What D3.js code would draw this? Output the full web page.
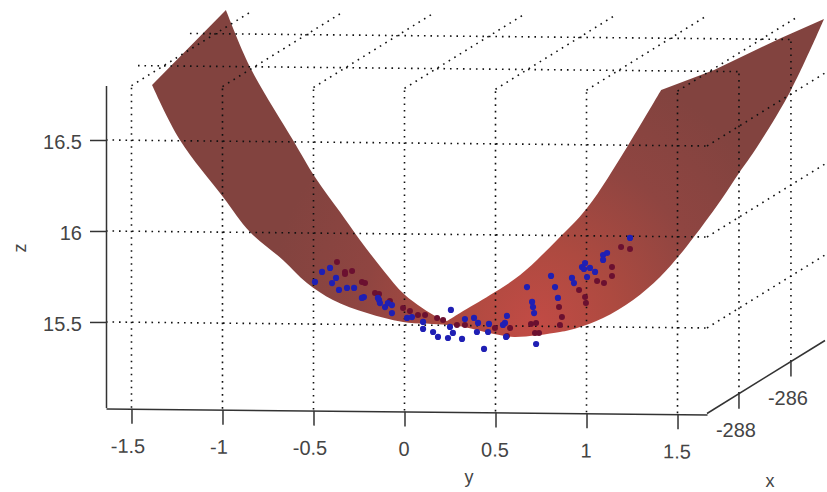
<!DOCTYPE html>
<html>
<head>
<meta charset="utf-8">
<script src="https://cdn.jsdelivr.net/npm/d3@7"></script>
<style>
  html, body { margin: 0; padding: 0; background: #fff; }
  svg { display: block; }
  text { font-family: "Liberation Sans", Arial, sans-serif; fill: #444; }
  .tick text { font-size: 20px; }
</style>
</head>
<body>
<div id="chart"></div>
<script>
const yTicks = [-1.5, -1, -0.5, 0, 0.5, 1, 1.5];
const zTicks = [15.5, 16, 16.5];
const xTicks = [-288, -286];

const yLimits = [-1.64, 1.662];
const zLimits = [15.03, 16.8];
const xLimits = [-289.23, -284.69];

// surface outline
const surfaceY = [-1.387, -0.981, -0.849, -0.613, -0.492, -0.354, -0.245, -0.118, 0.003, 0.179, 0.234, 0.305, 0.47, 0.635, 0.838, 1.003, 1.223, 1.41, 1.701, 2.069, 2.305, 2.124, 1.937, 1.838, 1.739, 1.552, 1.404, 1.256, 1.091, 0.948, 0.854, 0.602, 0.492, 0.327, 0.234, -0.008, -0.206, -0.393, -0.536, -0.668, -0.849, -0.997, -1.234];
const surfaceZ = [16.802, 17.214, 16.901, 16.5, 16.297, 16.104, 15.951, 15.786, 15.648, 15.527, 15.505, 15.549, 15.648, 15.758, 15.951, 16.126, 16.462, 16.775, 16.885, 17.061, 17.165, 16.775, 16.462, 16.319, 16.17, 15.918, 15.747, 15.621, 15.522, 15.467, 15.445, 15.418, 15.434, 15.473, 15.484, 15.5, 15.549, 15.621, 15.714, 15.841, 15.995, 16.187, 16.5];

// measured points
const blueY = [-0.453, -0.409, -0.492, -0.376, -0.398, -0.36, -0.316, -0.277, -0.223, -0.234, -0.14, -0.135, -0.146, -0.107, -0.091, -0.069, -0.069, 0.014, 0.041, 0.102, 0.102, 0.157, 0.184, 0.266, 0.239, 0.316, 0.255, 0.332, 0.25, 0.382, 0.404, 0.398, 0.464, 0.459, 0.563, 0.552, 0.541, 0.437, 0.558, 0.723, 0.673, 0.701, 0.706, 0.712, 0.805, 0.827, 0.843, 0.92, 0.931, 0.975, 0.992, 0.986, 1.019, 1.003, 1.047, 1.091, 1.113, 1.091, 1.239];
const blueZ = [15.775, 15.797, 15.72, 15.742, 15.714, 15.676, 15.687, 15.687, 15.637, 15.632, 15.621, 15.604, 15.632, 15.582, 15.604, 15.593, 15.549, 15.522, 15.527, 15.5, 15.462, 15.445, 15.418, 15.44, 15.412, 15.407, 15.566, 15.516, 15.473, 15.522, 15.495, 15.445, 15.489, 15.445, 15.533, 15.495, 15.484, 15.352, 15.418, 15.379, 15.692, 15.61, 15.582, 15.549, 15.753, 15.692, 15.632, 15.742, 15.714, 15.802, 15.824, 15.791, 15.797, 15.747, 15.775, 15.868, 15.879, 15.841, 15.962];
const redY = [-0.371, -0.327, -0.327, -0.288, -0.234, -0.217, -0.162, -0.14, -0.08, -0.008, 0.03, 0.074, 0.113, 0.179, 0.212, 0.288, 0.332, 0.497, 0.58, 0.563, 0.695, 0.723, 0.717, 0.739, 0.849, 0.865, 0.854, 0.959, 0.992, 0.997, 1.058, 1.096, 1.14, 1.14, 1.19, 1.239];
const redZ = [15.83, 15.775, 15.764, 15.78, 15.72, 15.714, 15.659, 15.654, 15.615, 15.577, 15.56, 15.538, 15.538, 15.522, 15.511, 15.484, 15.484, 15.467, 15.467, 15.423, 15.489, 15.495, 15.44, 15.44, 15.582, 15.527, 15.484, 15.676, 15.637, 15.604, 15.725, 15.714, 15.802, 15.753, 15.912, 15.901];

const width = 827;
const height = 492;

const svg = d3.select('#chart').append('svg')
  .attr('width', width)
  .attr('height', height);

const yScale = d3.scaleLinear().domain(yLimits).range([106, 707]);
const zScale = d3.scaleLinear().domain(zLimits).range([407.5, 85.4]);
// the view is oblique: x runs up and to the right, y drifts down a little
const xRun = d3.scaleLinear().domain(xLimits).range([0, 118]);
const xRise = d3.scaleLinear().domain(xLimits).range([0, 73]);
const yDrift = d3.scaleLinear().domain(yLimits).range([0, 6]);

const project = (x, y, z) => [
  yScale(y) + xRun(x),
  zScale(z) + yDrift(y) - xRise(x)
];

// surface
const defs = svg.append('defs');
const grad = defs.append('radialGradient')
  .attr('id', 'surfaceFill')
  .attr('gradientUnits', 'userSpaceOnUse')
  .attr('cx', yScale(0.72)).attr('cy', zScale(15.48)).attr('r', 270);
grad.append('stop').attr('offset', '0%').attr('stop-color', '#c24b45');
grad.append('stop').attr('offset', '30%').attr('stop-color', '#ad4a40');
grad.append('stop').attr('offset', '65%').attr('stop-color', '#8f4541');
grad.append('stop').attr('offset', '100%').attr('stop-color', '#82433f');

const n = surfaceY.length;
const edgeLine = curve => d3.line()
  .x(i => yScale(surfaceY[i % n]))
  .y(i => zScale(surfaceZ[i % n]))
  .curve(curve);

// smooth arcs with straight runs at the two far ends
const outlinePath = [
  edgeLine(d3.curveLinear)([0, 1]),
  edgeLine(d3.curveCatmullRom)(d3.range(1, 11)),
  edgeLine(d3.curveCatmullRom)(d3.range(10, 18)),
  edgeLine(d3.curveLinear)(d3.range(17, 21)),
  edgeLine(d3.curveCatmullRom)(d3.range(20, n + 1))
].map((s, i) => i ? s.replace('M', 'L') : s).join('') + 'Z';

svg.append('path')
  .attr('d', outlinePath)
  .attr('fill', 'url(#surfaceFill)');

// dotted grid, drawn over the surface
const xMin = xLimits[0], xMax = xLimits[1];
const yMin = yLimits[0], yMax = yLimits[1];
const zMin = zLimits[0], zMax = zLimits[1];

const gridSegments = [];
yTicks.forEach(y => {
  gridSegments.push([project(xMin, y, zMin), project(xMin, y, zMax)]);
  gridSegments.push([project(xMin, y, zMax), project(xMax, y, zMax)]);
});
zTicks.forEach(z => {
  gridSegments.push([project(xMin, yMin, z), project(xMin, yMax, z)]);
  gridSegments.push([project(xMin, yMax, z), project(xMax, yMax, z)]);
});
xTicks.forEach(x => {
  gridSegments.push([project(x, yMax, zMin), project(x, yMax, zMax)]);
  gridSegments.push([project(x, yMin, zMax), project(x, yMax, zMax)]);
});

svg.append('g').selectAll('line').data(gridSegments).enter().append('line')
  .attr('x1', d => d[0][0])
  .attr('y1', d => d[0][1])
  .attr('x2', d => d[1][0])
  .attr('y2', d => d[1][1])
  .attr('stroke', '#111')
  .attr('stroke-width', 1.6)
  .attr('stroke-dasharray', '1.6 4.9');

// points
svg.append('g').selectAll('circle').data(d3.range(redY.length)).enter().append('circle')
  .attr('cx', i => yScale(redY[i]))
  .attr('cy', i => zScale(redZ[i]))
  .attr('r', 3)
  .attr('fill', '#6b1030');

svg.append('g').selectAll('circle').data(d3.range(blueY.length)).enter().append('circle')
  .attr('cx', i => yScale(blueY[i]))
  .attr('cy', i => zScale(blueZ[i]))
  .attr('r', 3.1)
  .attr('fill', '#1f1fb4');

// axes
const styleAxis = g => {
  g.selectAll('path, line').attr('stroke', '#333').attr('stroke-width', 1.5);
  g.selectAll('text').attr('fill', '#444');
};

svg.append('g')
  .attr('transform', 'translate(106,0)')
  .call(d3.axisLeft(zScale).tickValues(zTicks).tickFormat(d => String(d)).tickSize(16).tickSizeOuter(0).tickPadding(8))
  .call(styleAxis)
  .selectAll('text').attr('dy', '0.42em');

svg.append('g')
  .attr('transform', `translate(0,${zScale(zMin)}) skewY(0.57)`)
  .call(d3.axisBottom(yScale).tickValues(yTicks).tickFormat(d => String(d)).tickSize(15).tickSizeOuter(0).tickPadding(15))
  .call(styleAxis)
  .selectAll('text').attr('dx', d => d < 0 ? -4 : -1);

// x axis runs along the right floor edge, no d3.axis for a slanted line
const xAxis = svg.append('g');
const xStart = project(xMin, yMax, zMin);
const xEnd = project(xMax, yMax, zMin);
xAxis.append('line')
  .attr('x1', xStart[0]).attr('y1', xStart[1])
  .attr('x2', xEnd[0]).attr('y2', xEnd[1])
  .attr('stroke', '#333').attr('stroke-width', 1.5);
xTicks.forEach(x => {
  const p = project(x, yMax, zMin);
  xAxis.append('line')
    .attr('x1', p[0]).attr('y1', p[1])
    .attr('x2', p[0]).attr('y2', p[1] + 15)
    .attr('stroke', '#333').attr('stroke-width', 1.5);
  xAxis.append('text')
    .attr('x', p[0] - 3)
    .attr('y', p[1] + 43)
    .attr('text-anchor', 'middle')
    .style('font-size', '20px')
    .text(x);
});

// axis titles
svg.append('text').attr('x', 469).attr('y', 483).attr('text-anchor', 'middle').style('font-size', '18px').text('y');
svg.append('text').attr('x', 770).attr('y', 487).attr('text-anchor', 'middle').style('font-size', '18px').text('x');
svg.append('text')
  .attr('transform', 'translate(26,248) rotate(-90)')
  .attr('text-anchor', 'middle')
  .style('font-size', '18px')
  .text('z');
</script>
</body>
</html>
